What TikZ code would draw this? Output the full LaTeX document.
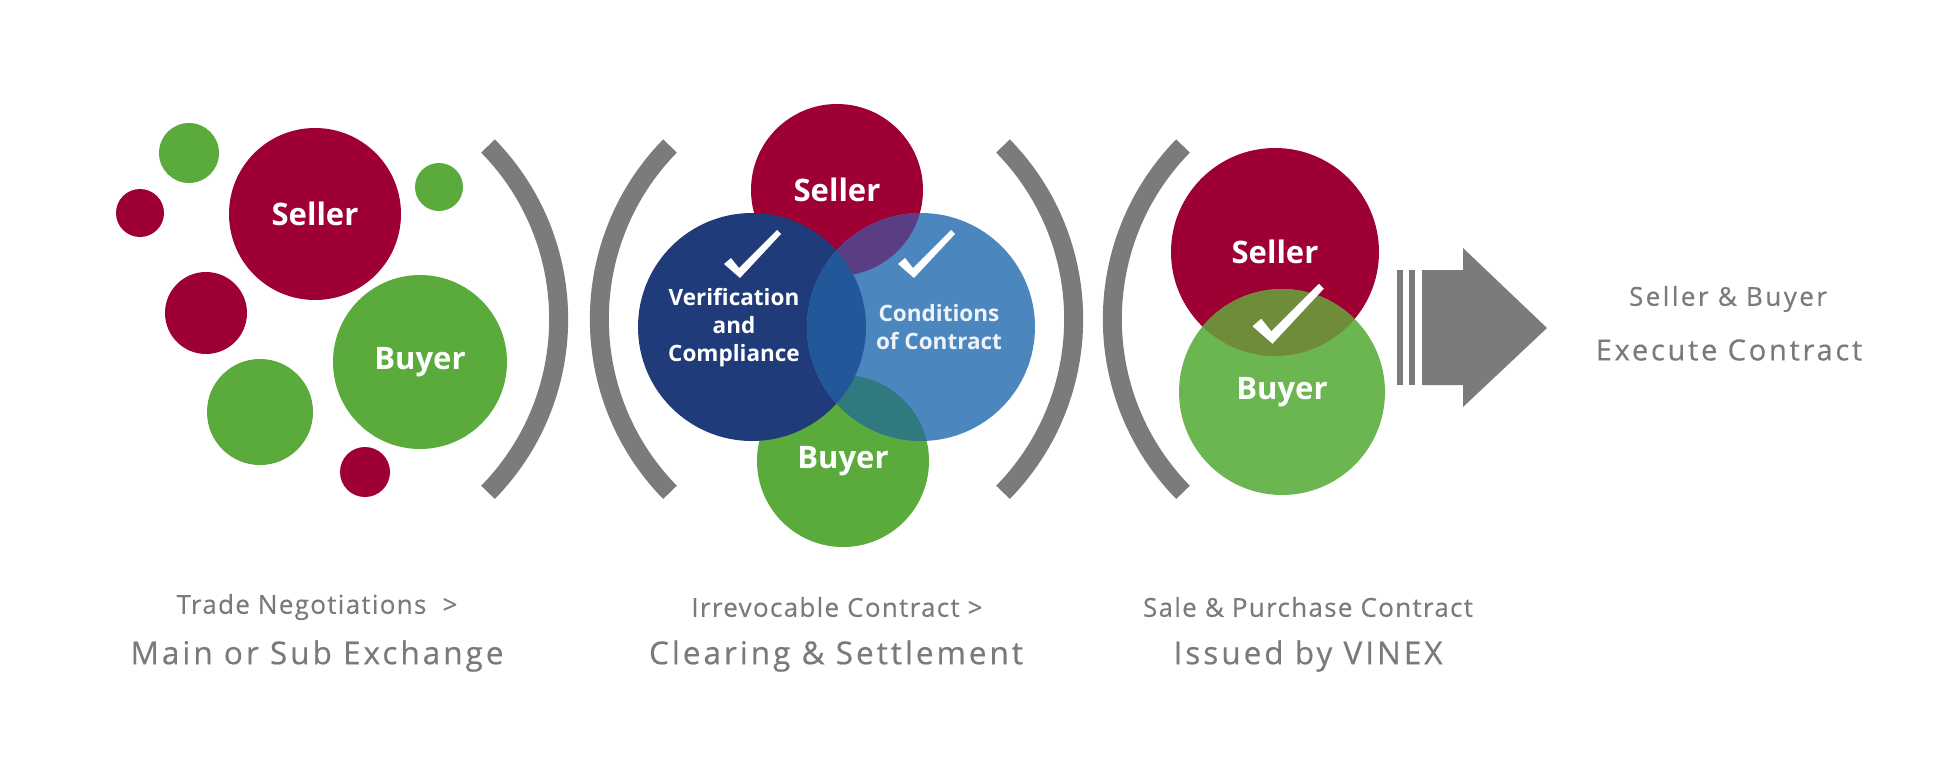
\documentclass[tikz,border=0pt]{standalone}
\usepackage{fontspec}
\setmainfont{Open Sans}
\newfontfamily\spacedfont[LetterSpace=9.5,FakeBold=0.5]{Open Sans}
\newfontfamily\smallspaced[LetterSpace=5,FakeBold=0.3]{Open Sans}

\definecolor{wine}{HTML}{9E0034}
\definecolor{leaf}{HTML}{5AAA3C}
\definecolor{paleleaf}{HTML}{6BB650}
\definecolor{navy}{HTML}{1F3B7A}
\definecolor{sky}{HTML}{4C86BE}
\definecolor{plum}{HTML}{5B3D84}
\definecolor{deepsea}{HTML}{2E7A7E}
\definecolor{midblue}{HTML}{22589A}
\definecolor{olive}{HTML}{6F8C3A}
\definecolor{bargray}{HTML}{7B7B7B}
\definecolor{txtgray}{HTML}{7A7A7A}

\tikzset{
  ball/.style={shape=circle,inner sep=0pt,text=white,align=center,
    font=\bfseries\fontsize{31}{35}\selectfont},
  inside/.style={text=white,align=center,font=\bfseries\fontsize{22.5}{28}\selectfont},
  bracket/.style={draw=bargray,line width=19pt},
  caption/.style={text=txtgray,font=\smallspaced\fontsize{26}{30}\selectfont},
  heading/.style={text=txtgray,font=\spacedfont\fontsize{31.5}{36}\selectfont},
  checkmark/.pic={\fill[white] (-14,-11) -- (-7,-17) -- (1,-7) -- (39,-45) -- (43,-41) -- (2,3) -- cycle;}
}

\begin{document}
\begin{tikzpicture}[x=1pt,y=-1pt]
	\useasboundingbox (0,0) rectangle (1947,766);

	\node[ball,fill=leaf,minimum size=60pt] (dot1) at (189,153) {};
	\node[ball,fill=wine,minimum size=48pt] (dot2) at (140,213) {};
	\node[ball,fill=leaf,minimum size=48pt] (dot3) at (439,187) {};
	\node[ball,fill=wine,minimum size=82pt] (dot4) at (206,313) {};
	\node[ball,fill=leaf,minimum size=106pt] (dot5) at (260,412) {};
	\node[ball,fill=wine,minimum size=50pt] (dot6) at (365,472) {};
	\node[ball,fill=wine,minimum size=172pt] (seller1) at (315,214) {Seller};
	\node[ball,fill=leaf,minimum size=174pt] (buyer1) at (420,362) {Buyer};

	\draw[bracket] (488,146) arc[start angle=44.4,end angle=-44.4,radius=247.5pt];
	\draw[bracket] (670,146) arc[start angle=135.6,end angle=224.4,radius=247.5pt];

	\node[ball,fill=wine,minimum size=172pt] (seller2) at (837,190) {Seller};
	\node[ball,fill=leaf,minimum size=172pt] (buyer2) at (843,461) {Buyer};
	\node[ball,fill=navy,minimum size=228pt] (verif) at (752,327) {};
	\node[ball,fill=sky,minimum size=228pt] (conds) at (921,327) {};
	\begin{scope}
		\clip (conds.center) circle[radius=114pt];
		\fill[plum] (seller2.center) circle[radius=86pt];
		\fill[deepsea] (buyer2.center) circle[radius=86pt];
		\fill[midblue] (verif.center) circle[radius=114pt];
	\end{scope}
	\node[inside] (veriftext) at (734,328) {Verification\\and\\Compliance};
	\node[inside,text=white!90!sky] (condtext) at (939,327) {Conditions\\of Contract};
	\pic at (738,275) {checkmark};
	\pic at (912,275) {checkmark};

	\draw[bracket] (1003,146) arc[start angle=44.4,end angle=-44.4,radius=247.5pt];
	\draw[bracket] (1183,146) arc[start angle=135.6,end angle=224.4,radius=247.5pt];

	\node[ball,fill=wine,minimum size=208pt] (seller3) at (1275,252) {Seller};
	\node[ball,fill=paleleaf,minimum size=206pt] (buyer3) at (1282,392) {Buyer};
	\begin{scope}
		\clip (seller3.center) circle[radius=104pt];
		\fill[olive] (buyer3.center) circle[radius=103pt];
	\end{scope}
	\pic[scale=1.25] at (1270,340) {checkmark};

	\fill[bargray] (1397,270) rectangle (1403,385);
	\fill[bargray] (1409,270) rectangle (1415,385);
	\fill[bargray] (1422,270) -- (1463,270) -- (1463,248) -- (1547,328) -- (1463,407) -- (1463,385) -- (1422,385) -- cycle;

	\node[heading,font=\spacedfont\fontsize{26}{30}\selectfont] (sellerbuyer) at (1728,299) {Seller \& Buyer};
	\node[heading,font=\spacedfont\fontsize{29}{34}\selectfont] (execute) at (1729,350) {Execute Contract};

	\node[caption] (trade) at (317,607) {Trade Negotiations\ \ >};
	\node[heading] (mainsub) at (317,656) {Main or Sub Exchange};
	\node[caption] (irrevocable) at (837,607) {Irrevocable Contract\ >};
	\node[heading] (clearing) at (836,656) {Clearing \& Settlement};
	\node[caption] (sale) at (1308,607) {Sale \& Purchase Contract};
	\node[heading] (issued) at (1308,656) {Issued by VINEX};
\end{tikzpicture}
\end{document}
